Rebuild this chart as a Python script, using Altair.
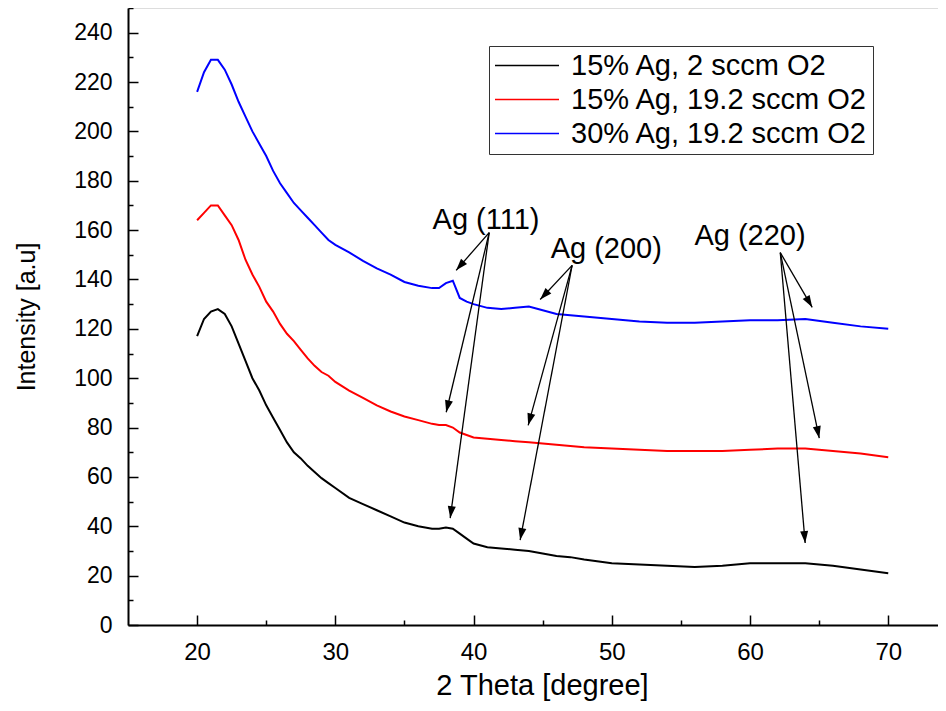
import math
import altair as alt
import pandas as pd

# ---------------- data ----------------
two_theta = [20, 20.5, 21, 21.5, 22, 22.5, 23, 23.5, 24, 24.5, 25, 25.5, 26, 26.5, 27, 27.5,
             28, 28.5, 29, 29.5, 30, 31, 32, 33, 34, 35, 36, 37, 37.5, 38, 38.5, 39, 39.5,
             40, 41, 42, 43, 44, 45, 46, 47, 48, 50, 52, 54, 56, 58, 60, 62, 64, 66, 68, 70]

black_2sccm = [117, 124, 127, 128, 126, 121, 114, 107, 100, 95, 89, 84, 79, 74, 70, 67.5,
               64.5, 62, 59.5, 57.5, 55.5, 51.5, 49, 46.5, 44, 41.5, 40, 39, 39, 39.5, 39, 37, 35,
               33, 31.5, 31, 30.5, 30, 29, 28, 27.5, 26.5, 25, 24.5, 24, 23.5, 24, 25, 25, 25, 24, 22.5, 21]

red_19sccm = [164, 167, 170, 170, 166, 162, 156, 148, 142, 137, 131, 127, 122, 118, 115, 111.5,
              108, 105, 102.5, 101, 98.5, 95, 92, 89, 86.5, 84.5, 83, 81.5, 81, 81, 80, 78, 77,
              76, 75.5, 75, 74.5, 74, 73.5, 73, 72.5, 72, 71.5, 71, 70.5, 70.5, 70.5, 71, 71.5, 71.5, 70.5, 69.5, 68]

blue_30pct = [216, 224, 229, 229, 225, 219, 212, 206, 200, 195, 190, 184, 179, 175, 171, 168,
              165, 162, 159, 156, 154, 151, 147.5, 144.5, 142, 139, 137.5, 136.5, 136.5, 138.5, 139.5, 132.5, 131,
              130, 128.5, 128, 128.5, 129, 127.5, 126, 125.5, 125, 124, 123, 122.5, 122.5, 123, 123.5, 123.5, 124, 122.5, 121, 120]

series_names = ["15% Ag, 2 sccm O2", "15% Ag, 19.2 sccm O2", "30% Ag, 19.2 sccm O2"]
series_colors = ["#000000", "#ff0000", "#0000ff"]

peak_labels = ["Ag (111)", "Ag (200)", "Ag (220)"]
peak_label_x = [40.9, 49.6, 60.0]
peak_label_y = [160.5, 148.9, 153.8]

arrow_x0 = [41.13, 41.13, 41.13, 47.13, 47.13, 47.13, 62.19, 62.19, 62.19]
arrow_y0 = [159.0, 159.0, 159.0, 145.7, 145.7, 145.7, 150.9, 150.9, 150.9]
arrow_x1 = [38.74, 38.02, 38.31, 44.82, 43.95, 43.37, 64.50, 65.01, 63.99]
arrow_y1 = [143.7, 86.2, 43.3, 131.9, 80.9, 34.4, 128.7, 75.7, 33.2]

x_ticks = [20, 30, 40, 50, 60, 70]
x_tick_marks = [20, 25, 30, 35, 40, 45, 50, 55, 60, 65, 70]
y_ticks = list(range(0, 241, 20))
y_tick_marks = list(range(0, 251, 10))

# ---------------- layout ----------------
W, H = 810, 617
XMIN, XMAX = 15, 73.6
YMIN, YMAX = 0, 250
FONT = "Liberation Sans"

rows = []
for name, vals in zip(series_names, [black_2sccm, red_19sccm, blue_30pct]):
    for i, (x, y) in enumerate(zip(two_theta, vals)):
        rows.append({"theta": x, "intensity": y, "series": name, "order": i})
df = pd.DataFrame(rows)

px_x = W / (XMAX - XMIN)
px_y = H / (YMAX - YMIN)
arrows = pd.DataFrame({"x0": arrow_x0, "y0": arrow_y0, "x1": arrow_x1, "y1": arrow_y1})
arrows["angle"] = [
    math.degrees(math.atan2((b - a) * px_x, (d - c) * px_y)) % 360
    for a, b, c, d in zip(arrow_x0, arrow_x1, arrow_y0, arrow_y1)
]
labels_df = pd.DataFrame({"label": peak_labels, "x": peak_label_x, "y": peak_label_y})

xscale = alt.Scale(domain=[XMIN, XMAX], nice=False, zero=False)
yscale = alt.Scale(domain=[YMIN, YMAX], nice=False, zero=False)

lines = alt.Chart(df).mark_line(strokeWidth=2).encode(
    x=alt.X("theta:Q", scale=xscale, axis=alt.Axis(
        orient="bottom", title="2 Theta [degree]", values=x_ticks, ticks=False, tickSize=0,
        labelPadding=15, labelFontSize=24, labelFont=FONT, labelColor="black",
        titleFontSize=29, titleFont=FONT, titleFontWeight="normal", titleColor="black",
        titleX=414, titleY=46, titleBaseline="top", titleAlign="center",
        domainColor="black", domainWidth=2, grid=False)),
    y=alt.Y("intensity:Q", scale=yscale, axis=alt.Axis(
        orient="left", title="Intensity [a.u]", values=y_ticks, ticks=False, tickSize=0,
        labelPadding=16, labelFontSize=23, labelFont=FONT, labelColor="black",
        titleFontSize=25, titleFont=FONT, titleFontWeight="normal", titleColor="black",
        titlePadding=34, domainColor="black", domainWidth=2, grid=False)),
    color=alt.Color("series:N", scale=alt.Scale(domain=series_names, range=series_colors),
                    legend=alt.Legend(
                        title=None, orient="none", legendX=361, legendY=38, direction="vertical",
                        symbolType="stroke", symbolSize=4096, symbolStrokeWidth=1.5, clipHeight=29,
                        labelFontSize=29, labelFont=FONT, labelColor="black", labelOffset=11,
                        padding=5, rowPadding=4, strokeColor="#333333", fillColor="white",
                        labelLimit=500)),
    order="order:Q",
)

rules = alt.Chart(arrows).mark_rule(strokeWidth=1.3, color="black").encode(
    x=alt.X("x0:Q", scale=xscale, axis=alt.Axis(
        orient="top", offset=-H, labels=False, domain=False, grid=False, title=None,
        values=x_tick_marks, tickColor="black", tickWidth=1.5,
        tickSize={"condition": {"test": "datum.value % 10 === 0", "value": 10}, "value": 5})),
    y=alt.Y("y0:Q", scale=yscale, axis=alt.Axis(
        orient="right", offset=-W, labels=False, domain=False, grid=False, title=None,
        values=y_tick_marks, tickColor="black", tickWidth=1.5,
        tickSize={"condition": {"test": "datum.value % 20 === 0", "value": 10}, "value": 5})),
    x2="x1:Q",
    y2="y1:Q",
)

heads = alt.Chart(arrows).mark_point(
    shape="M0,0 L-0.8,2.4 L0.8,2.4 Z", size=100, filled=True, color="black", opacity=1, strokeWidth=0
).encode(
    x=alt.X("x1:Q", scale=xscale, axis=None),
    y=alt.Y("y1:Q", scale=yscale, axis=None),
    angle=alt.Angle("angle:Q", scale=None),
)

texts = alt.Chart(labels_df).mark_text(
    fontSize=29, font=FONT, color="black", align="center", baseline="alphabetic"
).encode(
    x=alt.X("x:Q", scale=xscale, axis=None),
    y=alt.Y("y:Q", scale=yscale, axis=None),
    text="label:N",
)

chart = alt.layer(lines, rules, heads, texts).resolve_axis(
    x="independent", y="independent"
).properties(
    width=W, height=H,
    autosize=alt.AutoSizeParams(type="none"),
    padding={"left": 120, "top": 0, "right": 0, "bottom": 78},
).configure_view(stroke=None).configure(background="white")

chart.save("out.html", embed_options={"renderer": "svg", "actions": False})
